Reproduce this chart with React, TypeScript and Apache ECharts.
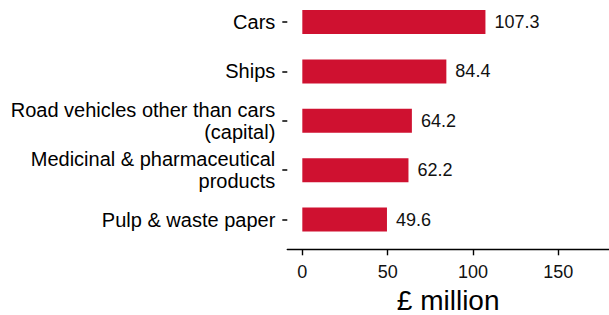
import React, { useEffect, useRef } from "react";
import * as echarts from "echarts";

const categories = [
  "Cars",
  "Ships",
  "Road vehicles other than cars\n(capital)",
  "Medicinal & pharmaceutical\nproducts",
  "Pulp & waste paper",
];
const values = [107.3, 84.4, 64.2, 62.2, 49.6];
const xTicks = [0, 50, 100, 150];
const xTitle = "£ million";

export default function App() {
  const ref = useRef<HTMLDivElement>(null);
  useEffect(() => {
    if (!ref.current) return;
    const chart = echarts.init(ref.current, null, { renderer: "svg" });
    const font = "'Liberation Sans', Arial, sans-serif";
    chart.setOption({
      animation: false,
      backgroundColor: "#ffffff",
      textStyle: { fontFamily: font },
      grid: { left: 287.3, right: 0, top: 7.3, height: 247, containLabel: false, outerBoundsMode: "none" },
      xAxis: {
        type: "value",
        min: -8.8,
        max: 179.7,
        offset: 5,
        splitLine: { show: false },
        axisLine: { show: true, lineStyle: { color: "#000", width: 1.4 } },
        axisTick: { show: true, length: 6, customValues: xTicks, lineStyle: { color: "#000", width: 1.4 } },
        axisLabel: { customValues: xTicks, fontSize: 18, color: "#111", margin: 14, fontFamily: font },
        name: xTitle,
        nameLocation: "middle",
        nameGap: 36,
        nameTextStyle: { fontSize: 28, color: "#000", fontFamily: font },
      },
      yAxis: {
        type: "category",
        inverse: true,
        data: categories,
        axisLine: { show: false, onZero: false },
        axisTick: { show: true, alignWithLabel: true, length: 5, lineStyle: { color: "#000", width: 1.5 } },
        axisLabel: { fontSize: 20, lineHeight: 22, color: "#000", margin: 12, fontFamily: font, align: "right" },
        splitLine: { show: false },
      },
      series: [
        {
          type: "bar",
          data: values,
          barWidth: 24,
          itemStyle: { color: "#CF1130" },
          label: {
            show: true,
            position: "right",
            distance: 9,
            fontSize: 18,
            color: "#111",
            fontFamily: font,
            formatter: (p: any) => p.value.toFixed(1),
          },
        },
      ],
    });
    return () => chart.dispose();
  }, []);
  return (
    <div
      ref={ref}
      style={{ position: "fixed", left: 0, top: -10, width: 609, height: 325, background: "#fff" }}
    />
  );
}
